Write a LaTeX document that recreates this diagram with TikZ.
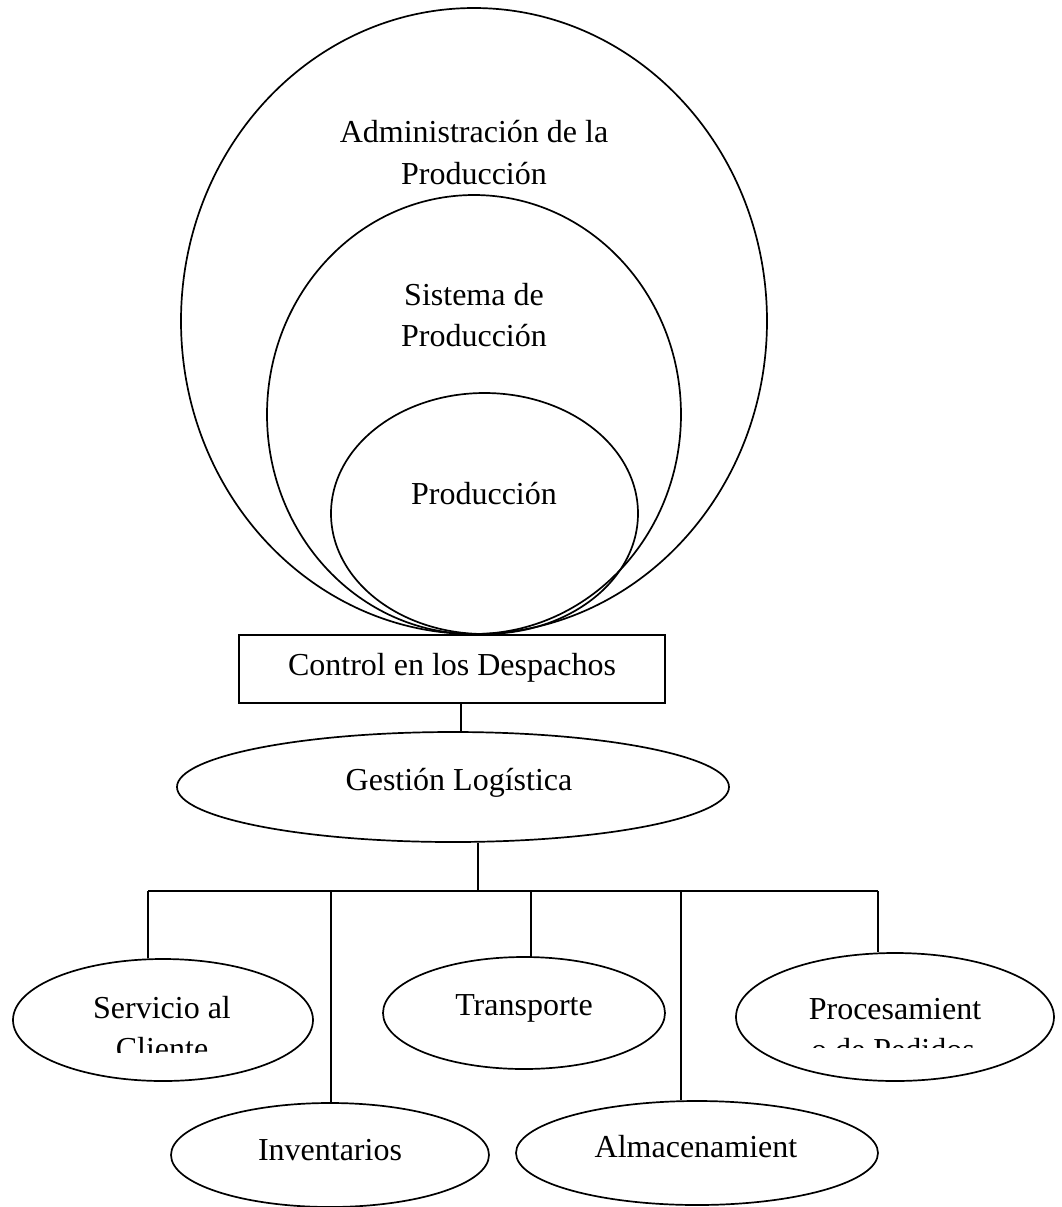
\documentclass[tikz,border=0pt]{standalone}
\usepackage{fontspec}
\setmainfont{Liberation Serif}
\usetikzlibrary{shapes.geometric}

\tikzset{
  line/.style={line width=0.85pt, black},
  oval/.style={ellipse, draw, line width=0.85pt, inner sep=0pt},
  box/.style={rectangle, draw, line width=0.85pt, inner sep=0pt},
  lbl/.style={font=\fontsize{16pt}{20.5pt}\selectfont, inner sep=0pt, anchor=base},
}

\begin{document}
\begin{tikzpicture}[x=0.5pt, y=-0.5pt]
  \useasboundingbox (0,0) rectangle (1062,1207);

  % nested production circles, all touching at the bottom
  \node[oval, minimum width=293pt, minimum height=313pt] (adm) at (474,321) {};
  \node[oval, minimum width=207pt, minimum height=219.5pt] (sis) at (474,414.5) {};
  \node[oval, minimum width=153.5pt, minimum height=120.5pt] (prod) at (484.5,513.5) {};

  \node[lbl] (adm1) at (474,142) {Administración de la};
  \node[lbl] (adm2) at (474,184) {Producción};
  \node[lbl] (sis1) at (474,305) {Sistema de};
  \node[lbl] (sis2) at (474,346) {Producción};
  \node[lbl] (prod1) at (484,504) {Producción};

  % dispatch control box
  \node[box, minimum width=213pt, minimum height=34pt] (ctrl) at (452,669) {};
  \node[lbl] (ctrlt) at (452,675) {Control en los Despachos};

  % logistics management
  \node[oval, minimum width=276pt, minimum height=55pt] (gest) at (453,787) {};
  \node[lbl] (gestt) at (459,790) {Gestión Logística};

  % logistics activities
  \node[oval, minimum width=150pt, minimum height=61pt] (serv) at (163,1020) {};
  \node[oval, minimum width=141pt, minimum height=56pt] (trans) at (524,1013) {};
  \node[oval, minimum width=159pt, minimum height=64pt] (proc) at (895,1017) {};
  \node[oval, minimum width=159pt, minimum height=52pt] (inv) at (330,1155) {};
  \node[oval, minimum width=181pt, minimum height=52pt] (alm) at (697,1153) {};

  \begin{scope}
    \clip (0,940) rectangle (330,1052);
    \node[lbl] (serv1) at (162,1018) {Servicio al};
    \node[lbl] (serv2) at (162,1059) {Cliente};
  \end{scope}
  \node[lbl] (trans1) at (524,1015) {Transporte};
  \begin{scope}
    \clip (720,940) rectangle (1062,1047);
    \node[lbl] (proc1) at (895,1019) {Procesamient};
    \node[lbl] (proc2) at (893,1060) {o de Pedidos};
  \end{scope}
  \node[lbl] (inv1) at (330,1160) {Inventarios};
  \node[lbl] (alm1) at (696,1157) {Almacenamient};

  % connector points
  \coordinate (c0) at (461,703);
  \coordinate (j0) at (478,891);
  \coordinate (b1) at (148,891);
  \coordinate (b2) at (331,891);
  \coordinate (b3) at (531,891);
  \coordinate (b4) at (681,891);
  \coordinate (b5) at (878,891);

  \draw[line] (ctrl.south -| c0) -- (gest.north -| c0);
  \draw[line] (gest.south -| j0) -- (j0);
  \draw[line] (b1) -- (b5);
  \draw[line] (b1) -- (b1 |- serv.north);
  \draw[line] (b2) -- (b2 |- inv.north);
  \draw[line] (b3) -- (b3 |- trans.north);
  \draw[line] (b4) -- (b4 |- alm.north);
  \draw[line] (b5) -- (b5 |- proc.north);
\end{tikzpicture}
\end{document}
